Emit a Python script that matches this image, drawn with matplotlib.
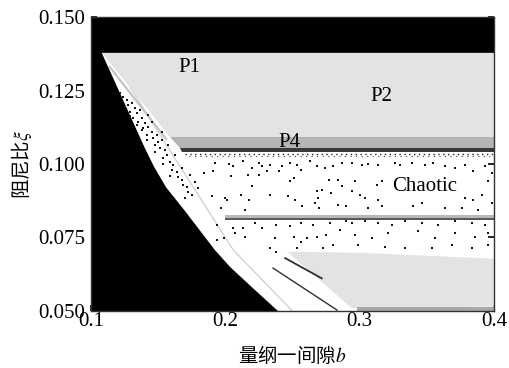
import matplotlib
matplotlib.use("Agg")
import matplotlib.pyplot as plt

# Axis ticks
b_ticks = [0.1, 0.2, 0.3, 0.4]
xi_ticks = [0.050, 0.075, 0.100, 0.125, 0.150]

# Edge of the black region (left side of the map)
edge_b = [0.108, 0.1400, 0.1470, 0.1560, 0.1700, 0.1923, 0.2035, 0.2200, 0.2392]
edge_xi = [0.1378, 0.1055, 0.0990, 0.0920, 0.0840, 0.0707, 0.0650, 0.0580, 0.0500]
top_xi = 0.1378

# P1 / P2 region
p12_b = [0.108, 0.400, 0.400, 0.159]
p12_xi = [0.1378, 0.1378, 0.1092, 0.1092]

# P4 band and its dark lower edge
p4_b = [0.159, 0.400, 0.400, 0.166]
p4_xi = [0.1092, 0.1092, 0.1054, 0.1054]
p4_edge_b = [0.166, 0.400, 0.400, 0.168]
p4_edge_xi = [0.1054, 0.1054, 0.1042, 0.1042]

# Grey line inside the chaotic region
line_b = [0.200, 0.400]
line_xi_top = 0.0826
line_xi_mid = 0.0818
line_xi_bot = 0.0810

# Lower periodic region and bottom strip
low_b = [0.246, 0.300, 0.400, 0.400, 0.294]
low_xi = [0.0702, 0.0698, 0.0678, 0.0515, 0.0510]
strip_b = [0.298, 0.400, 0.400, 0.298]
strip_xi = [0.0500, 0.0500, 0.0515, 0.0515]

# Dark streaks and faint lines
streak1_b = [0.2445, 0.2718]
streak1_xi = [0.0680, 0.0611]
streak2_b = [0.2355, 0.2832]
streak2_xi = [0.0646, 0.0503]
faint_b = [0.128, 0.149, 0.206, 0.250]
faint_xi = [0.127, 0.1116, 0.0707, 0.0500]
ledge_b = [0.114, 0.156]
ledge_xi = [0.1330, 0.1085]

# Speckle row just under the P4 band
speckle_b = [0.170, 0.400]
speckle_xi = [0.1035, 0.1027]

# Chaotic points in the wedge next to the black edge
wedge_b = [0.1216, 0.1241, 0.1265, 0.1228, 0.1278, 0.1303, 0.1327, 0.1290,
           0.1340, 0.1365, 0.1315, 0.1377, 0.1352, 0.1402, 0.1390, 0.1427,
           0.1452, 0.1414, 0.1464, 0.1489, 0.1501, 0.1526, 0.1476, 0.1514,
           0.1551, 0.1563, 0.1538, 0.1588, 0.1613, 0.1600, 0.1637, 0.1650,
           0.1675, 0.1687, 0.1712, 0.1724, 0.1749, 0.1699, 0.1737, 0.1625,
           0.1575, 0.1675, 0.1774, 0.1799, 0.1427, 0.1452, 0.1526,
           0.1253, 0.1290, 0.1340, 0.1377, 0.1414, 0.1476, 0.1538, 0.1588]
wedge_xi = [0.1240, 0.1229, 0.1218, 0.1212, 0.1201, 0.1206, 0.1189, 0.1178,
            0.1172, 0.1184, 0.1155, 0.1155, 0.1144, 0.1138, 0.1121, 0.1127,
            0.1110, 0.1099, 0.1087, 0.1099, 0.1076, 0.1082, 0.1065, 0.1053,
            0.1048, 0.1031, 0.1019, 0.1008, 0.0997, 0.0980, 0.0974, 0.0957,
            0.0946, 0.0929, 0.0923, 0.0906, 0.0895, 0.0883, 0.0963, 0.1031,
            0.1065, 0.0985, 0.0940, 0.0917, 0.1167, 0.1144, 0.1110,
            0.1195, 0.1163, 0.1133, 0.1115, 0.1080, 0.1042, 0.1000, 0.0960]

# Chaotic points in the main region
chaos_b = [0.192, 0.203, 0.206, 0.213, 0.220, 0.225, 0.227, 0.231, 0.233,
           0.240, 0.242, 0.248, 0.253, 0.256, 0.263, 0.268, 0.274, 0.280,
           0.287, 0.184, 0.191, 0.204, 0.217, 0.225, 0.248, 0.251, 0.277,
           0.284, 0.220, 0.268, 0.272, 0.279, 0.287, 0.190, 0.200, 0.201,
           0.212, 0.218, 0.233, 0.247, 0.252, 0.269, 0.270, 0.284, 0.290,
           0.215, 0.197, 0.257, 0.267,
           0.194, 0.206, 0.213, 0.222, 0.227, 0.238, 0.248, 0.256, 0.265,
           0.278, 0.285, 0.290, 0.207, 0.199, 0.194, 0.215, 0.237, 0.251,
           0.256, 0.261, 0.268, 0.275, 0.280, 0.253, 0.273, 0.233, 0.238,
           0.2941, 0.3015, 0.3065, 0.3139, 0.3263, 0.3300, 0.3387, 0.3486,
           0.3548, 0.3635, 0.3709, 0.3784, 0.3846, 0.3933, 0.3982, 0.2965,
           0.3127, 0.3164, 0.3957, 0.2941, 0.3003, 0.3040, 0.3139, 0.3784,
           0.3846, 0.3908, 0.3065, 0.3164, 0.3399, 0.3461, 0.3635, 0.3759,
           0.3883, 0.3982,
           0.2941, 0.3040, 0.3139, 0.3238, 0.3337, 0.3461, 0.3585, 0.3709,
           0.3833, 0.3933, 0.2965, 0.3089, 0.3213, 0.3437, 0.3561, 0.3709,
           0.3858, 0.3957, 0.2990, 0.3189, 0.3337, 0.3536, 0.3685, 0.3833,
           0.3957]
chaos_xi = [0.1003, 0.1000, 0.0992, 0.1009, 0.0986, 0.1003, 0.0992, 0.0975,
            0.0997, 0.0975, 0.0992, 0.1003, 0.0997, 0.0980, 0.1009, 0.0992,
            0.0986, 0.0992, 0.1003, 0.0969, 0.0975, 0.0958, 0.0963, 0.0963,
            0.0941, 0.0952, 0.0946, 0.0946, 0.0924, 0.0907, 0.0912, 0.0901,
            0.0924, 0.0890, 0.0884, 0.0878, 0.0895, 0.0878, 0.0895, 0.0890,
            0.0878, 0.0884, 0.0850, 0.0861, 0.0856, 0.0844, 0.0850, 0.0856,
            0.0867,
            0.0793, 0.0782, 0.0782, 0.0799, 0.0782, 0.0793, 0.0788, 0.0799,
            0.0793, 0.0799, 0.0776, 0.0805, 0.0765, 0.0748, 0.0742, 0.0753,
            0.0748, 0.0753, 0.0736, 0.0748, 0.0753, 0.0759, 0.0725, 0.0714,
            0.0714, 0.0714, 0.0702,
            0.1003, 0.0997, 0.1000, 0.0997, 0.1003, 0.0997, 0.1003, 0.0997,
            0.1003, 0.0992, 0.0986, 0.0997, 0.0975, 0.0992, 0.0969, 0.0941,
            0.0929, 0.0941, 0.0941, 0.0907, 0.0895, 0.0884, 0.0878, 0.0884,
            0.0878, 0.0895, 0.0850, 0.0856, 0.0856, 0.0867, 0.0850, 0.0850,
            0.0844, 0.0867,
            0.0799, 0.0805, 0.0799, 0.0793, 0.0805, 0.0799, 0.0793, 0.0805,
            0.0799, 0.0793, 0.0759, 0.0748, 0.0765, 0.0771, 0.0748, 0.0765,
            0.0753, 0.0765, 0.0725, 0.0719, 0.0714, 0.0714, 0.0725, 0.0714,
            0.0725]

plt.rcParams["font.family"] = ["Liberation Serif", "Noto Sans CJK SC"]
plt.rcParams["mathtext.fontset"] = "stix"

fig = plt.figure(figsize=(5.10, 3.68), dpi=100)
ax = fig.add_axes([0.1784, 0.1549, 0.7902, 0.7989])
ax.set_facecolor("black")

# White chaotic area (right of the black edge, below the top band)
white_b = [0.400, 0.400] + edge_b[::-1]
white_xi = [top_xi, 0.0500] + edge_xi[::-1]
ax.fill(white_b, white_xi, color="white", lw=0, zorder=1)
ax.plot(faint_b, faint_xi, color="#d2d2d2", lw=1.0, zorder=2)
ax.plot(ledge_b, ledge_xi, color="#c4c4c4", lw=1.6, zorder=2)
ax.scatter(wedge_b, wedge_xi, s=2.2, marker="s", color="#151515", lw=0, zorder=3)
ax.scatter(chaos_b, chaos_xi, s=1.6, marker="s", color="#151515", lw=0, zorder=3)
ax.plot(speckle_b, [speckle_xi[0]] * 2, color="#222222", lw=1.0,
        ls=(0, (1, 2.5)), zorder=3)
ax.plot(speckle_b, [speckle_xi[1]] * 2, color="#444444", lw=0.8,
        ls=(1.5, (1, 4)), zorder=3)

# Periodic regions
ax.fill(p12_b, p12_xi, color="#e3e3e3", lw=0, zorder=4)
ax.fill(p4_b, p4_xi, color="#b4b4b4", lw=0, zorder=4)
ax.fill(p4_edge_b, p4_edge_xi, color="#3a3a3a", lw=0, zorder=4)
ax.fill(low_b, low_xi, color="#e3e3e3", lw=0, zorder=4)
ax.fill(strip_b, strip_xi, color="#a8a8a8", lw=0, zorder=4)
ax.fill_between(line_b, line_xi_mid, line_xi_top, color="#b8b8b8", lw=0, zorder=4)
ax.fill_between(line_b, line_xi_bot, line_xi_mid, color="#5a5a5a", lw=0, zorder=4)
ax.plot(streak1_b, streak1_xi, color="#303030", lw=1.3, zorder=5)
ax.plot(streak2_b, streak2_xi, color="#303030", lw=1.0, zorder=5)

# Region labels
ax.text(0.173, 0.1327, "P1", fontsize=15, ha="center", va="center", zorder=6)
ax.text(0.316, 0.1228, "P2", fontsize=15, ha="center", va="center", zorder=6)
ax.text(0.2474, 0.1073, "P4", fontsize=15, ha="center", va="center", zorder=6)
ax.text(0.3487, 0.0922, "Chaotic", fontsize=15, ha="center", va="center",
        zorder=6)

# Axes formatting
ax.set_xlim(0.1, 0.4)
ax.set_ylim(0.05, 0.15)
ax.set_xticks(b_ticks)
ax.set_xticklabels([f"{v:.1f}" for v in b_ticks])
ax.set_yticks(xi_ticks)
ax.set_yticklabels([f"{v:.3f}" for v in xi_ticks])
ax.tick_params(direction="in", length=4, width=1.2, labelsize=15,
               right=True, top=False)
ax.tick_params(axis="x", pad=1)
ax.tick_params(axis="y", pad=4)
for t in ax.yaxis.get_major_ticks():
    t.tick1line.set_color("white")
    t.tick2line.set_color("black")
for t in ax.xaxis.get_major_ticks():
    t.tick1line.set_color("white")
for s in ax.spines.values():
    s.set_color("#333333")
    s.set_linewidth(1.0)
    s.set_zorder(7)

ax.set_xlabel("量纲一间隙$b$", fontsize=14,
              family=["Noto Sans CJK SC", "DejaVu Sans"], labelpad=9)
ax.set_ylabel("阻尼比$\\xi$", fontsize=14,
              family=["Noto Sans CJK SC", "DejaVu Sans"], labelpad=3)

fig.savefig("out.png", dpi=100)
